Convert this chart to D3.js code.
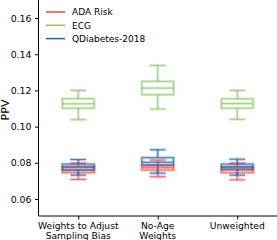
<!DOCTYPE html>
<html>
<head>
<meta charset="utf-8">
<script src="https://cdn.jsdelivr.net/npm/d3@7"></script>
<style>
  body { margin: 0; background: #fff; }
  text { font-family: "DejaVu Sans", sans-serif; fill: #000; }
</style>
</head>
<body>
<div id="chart"></div>
<script>
// Categories and series (box stats: whislo, q1, median, q3, whishi)
const groups = ["Weights to Adjust|Sampling Bias", "No-Age|Weights", "Unweighted"];
const seriesNames = ["ADA Risk", "ECG", "QDiabetes-2018"];
const seriesColors = ["#ff4545", "#8cc46b", "#1f63a8"];

const adaStats = [
    [0.0708, 0.0745, 0.0760, 0.0780, 0.0798],
    [0.0723, 0.0760, 0.0773, 0.0785, 0.0815],
    [0.0706, 0.0745, 0.0760, 0.0777, 0.0798]
];
const ecgStats = [
    [0.1038, 0.1102, 0.1126, 0.1154, 0.1200],
    [0.1097, 0.1176, 0.1213, 0.1250, 0.1338],
    [0.1040, 0.1102, 0.1127, 0.1153, 0.1200]
];
const qdStats = [
    [0.0732, 0.0760, 0.0775, 0.0793, 0.0818],
    [0.0743, 0.0788, 0.0803, 0.0828, 0.0872],
    [0.0732, 0.0765, 0.0777, 0.0793, 0.0820]
];
const yTicks = [0.06, 0.08, 0.10, 0.12, 0.14, 0.16];

const width = 277, height = 240;
const left = 38.5, bottom = 216;

const svg = d3.select("#chart").append("svg")
    .attr("width", width)
    .attr("height", height);

const x = d3.scaleLinear().domain([0.5, 3.5]).range([left, 277]);
const y = d3.scaleLinear().domain([0.06, 0.16]).range([199, 18]);

const boxW = x(1.4) - x(1);
const capW = boxW / 2;

// Axes
const yAxis = d3.axisLeft(y).tickValues(yTicks).tickFormat(d3.format(".2f"))
    .tickSize(3.5).tickPadding(3.5);
const gy = svg.append("g").attr("transform", "translate(" + left + ",0)").call(yAxis);
gy.select(".domain").remove();
gy.selectAll("text").style("font-size", "9.4px");

const xAxis = d3.axisBottom(x).tickValues([1, 2, 3]).tickFormat("").tickSize(3.5);
const gx = svg.append("g").attr("transform", "translate(0," + bottom + ")").call(xAxis);
gx.select(".domain").remove();

svg.append("line")
    .attr("x1", left).attr("y1", 0).attr("x2", left).attr("y2", bottom)
    .attr("stroke", "#000").attr("stroke-width", 1);
svg.append("line")
    .attr("x1", left).attr("y1", bottom).attr("x2", width).attr("y2", bottom)
    .attr("stroke", "#000").attr("stroke-width", 1);

// Category labels (two lines)
groups.forEach(function(g, i) {
    const t = svg.append("text")
        .attr("text-anchor", "middle")
        .attr("x", x(i + 1))
        .attr("y", 229)
        .style("font-size", "9.2px");
    g.split("|").forEach(function(line, j) {
        t.append("tspan").attr("x", x(i + 1)).attr("dy", j === 0 ? 0 : 10).text(line);
    });
});

// y label
svg.append("text")
    .attr("transform", "translate(8.5," + 110 + ") rotate(-90)")
    .attr("text-anchor", "middle")
    .style("font-size", "11px")
    .text("PPV");

// Boxes
const allStats = [adaStats, ecgStats, qdStats];

function drawBox(g, cx, s, color) {
    const segs = [
        [cx - capW / 2, s[0], cx + capW / 2, s[0]],
        [cx - capW / 2, s[4], cx + capW / 2, s[4]],
        [cx, s[0], cx, s[1]],
        [cx, s[3], cx, s[4]],
        [cx - boxW / 2, s[2], cx + boxW / 2, s[2]]
    ];
    // soft halo then thin line
    [[3, 0.3], [1, 0.75]].forEach(function(st) {
        g.append("rect")
            .attr("x", cx - boxW / 2)
            .attr("y", y(s[3]))
            .attr("width", boxW)
            .attr("height", y(s[1]) - y(s[3]))
            .attr("fill", "none")
            .attr("stroke", color)
            .attr("stroke-width", st[0])
            .attr("stroke-opacity", st[1]);
        segs.forEach(function(d) {
            g.append("line")
                .attr("x1", d[0]).attr("y1", y(d[1]))
                .attr("x2", d[2]).attr("y2", y(d[3]))
                .attr("stroke", color)
                .attr("stroke-width", st[0])
                .attr("stroke-opacity", st[1]);
        });
    });
}

allStats.forEach(function(stats, k) {
    const g = svg.append("g");
    stats.forEach(function(s, i) {
        drawBox(g, x(i + 1), s, seriesColors[k]);
    });
});

// Legend
const legend = svg.append("g");
seriesNames.forEach(function(name, i) {
    const ly = 12 + i * 13.3;
    legend.append("line")
        .attr("x1", 46).attr("x2", 65)
        .attr("y1", ly).attr("y2", ly)
        .attr("stroke", seriesColors[i])
        .attr("stroke-width", 1.5);
    legend.append("text")
        .attr("x", 72)
        .attr("y", ly + 3.3)
        .style("font-size", "9px")
        .text(name);
});
</script>
</body>
</html>
